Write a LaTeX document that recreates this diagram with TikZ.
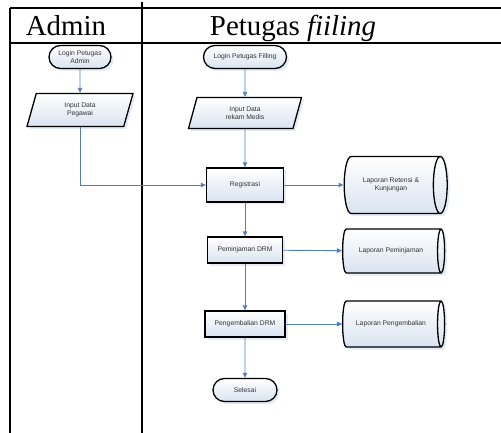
\documentclass[tikz,border=0pt]{standalone}
\usepackage{fontspec}
\setmainfont{Liberation Serif}
\setsansfont{Liberation Sans}
\usetikzlibrary{shapes.geometric,shapes.misc,shadows,arrows.meta}

\definecolor{flowblue}{HTML}{4F81BD}
\definecolor{boxblue}{HTML}{D9E3F0}
\definecolor{shadeblue}{HTML}{C9D8EE}

\tikzset{
  chartbox/.style={draw=black, line width=1.3bp, top color=white, bottom color=boxblue,
    drop shadow={fill=shadeblue, shadow xshift=2.5bp, shadow yshift=-2.5bp},
    font=\sffamily\fontsize{6.8}{8}\selectfont, text=black!80, align=center, inner sep=1bp},
  terminalbox/.style={chartbox, rounded rectangle},
  inputbox/.style={chartbox, trapezium, trapezium left angle=60, trapezium right angle=120,
    trapezium stretches body},
  processbox/.style={chartbox, rectangle},
  storebox/.style={chartbox, cylinder, aspect=0.85},
  flowarrow/.style={draw=flowblue, line width=0.9bp, -{Triangle[length=5bp,width=4.5bp]}},
  lanetitle/.style={font=\fontsize{29}{32}\selectfont, inner sep=0pt}
}

\begin{document}
\begin{tikzpicture}[x=1bp, y=-1bp]
\useasboundingbox (0,0) rectangle (501,433);
% swimlanes
\draw[line width=1.2bp] (10,8) -- (501,8);
\draw[line width=1.2bp] (10,43) -- (501,43);
\draw[line width=1.2bp] (10,8) -- (10,433);
\draw[line width=1.2bp] (142,2) -- (142,433);
\node[lanetitle, anchor=base] (admin) at (66,36) {Admin};
\node[lanetitle, anchor=base] (petugas) at (293,36) {Petugas \textit{fiiling}};
% admin lane
\node[terminalbox, minimum width=64bp, minimum height=23bp] (loginadmin) at (80,57) {Login Petugas\\Admin};
\node[inputbox, minimum width=106bp, minimum height=33bp] (pegawai) at (80,110) {Input Data\\Pegawai};
% petugas filling lane
\node[terminalbox, minimum width=85bp, minimum height=23bp] (loginfiling) at (245,57) {Login Petugas Filling};
\node[inputbox, minimum width=113bp, minimum height=31bp] (rekammedis) at (245,113) {Input Data\\rekam Medis};
\node[processbox, minimum width=77bp, minimum height=34bp] (registrasi) at (245,185) {Registrasi};
\node[processbox, minimum width=75bp, minimum height=26bp] (peminjaman) at (245,250) {Peminjaman DRM};
\node[processbox, minimum width=80bp, minimum height=26bp] (pengembalian) at (245,324) {Pengembalian DRM};
\node[terminalbox, minimum width=66bp, minimum height=23bp] (selesai) at (245,390) {Selesai};
% laporan
\node[storebox, minimum height=103bp, minimum width=57bp] (lapretensi) at (391,185) {Laporan Retensi \&\\Kunjungan};
\node[storebox, minimum height=102bp, minimum width=44bp] (lappinjam) at (391,251) {Laporan Peminjaman};
\node[storebox, minimum height=102bp, minimum width=46bp] (lapkembali) at (391,324) {Laporan Pengembalian};
% arrows
\draw[flowarrow] (loginadmin) -- (pegawai);
\draw[flowarrow] (pegawai.south) |- (registrasi.west);
\draw[flowarrow] (loginfiling) -- (rekammedis);
\draw[flowarrow] (rekammedis) -- (registrasi);
\draw[flowarrow] (registrasi) -- (lapretensi);
\draw[flowarrow] (registrasi) -- (peminjaman);
\draw[flowarrow] (peminjaman) -- (lappinjam);
\draw[flowarrow] (peminjaman) -- (pengembalian);
\draw[flowarrow] (pengembalian) -- (lapkembali);
\draw[flowarrow] (pengembalian) -- (selesai);
\end{tikzpicture}
\end{document}
